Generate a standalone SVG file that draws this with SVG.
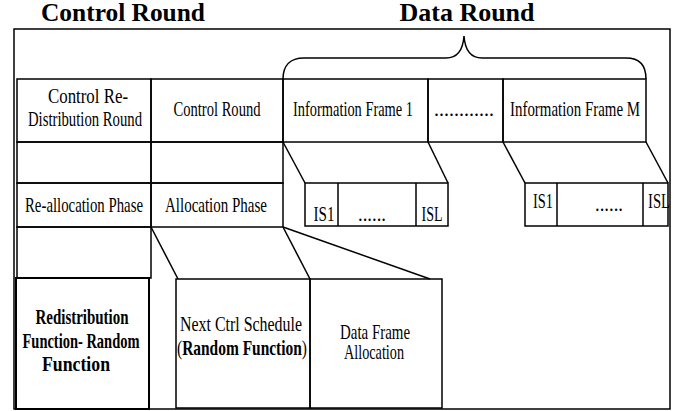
<svg xmlns="http://www.w3.org/2000/svg" width="679" height="411" viewBox="0 0 679 411">
<style>
.b{fill:none;stroke:#000;stroke-width:1.5}
.bb{fill:none;stroke:#000;stroke-width:2}
.t{font-family:'Liberation Serif',serif;font-size:22px;fill:#000;text-anchor:middle}
.tb{font-family:'Liberation Serif',serif;font-size:21px;font-weight:bold;fill:#000;text-anchor:middle}
.title{font-family:'Liberation Serif',serif;font-size:25px;font-weight:bold;fill:#000;text-anchor:middle}
.c{fill:none;stroke:#000;stroke-width:1.5}
</style>
<rect width="679" height="411" fill="#fff"/>
<g id="titles">
<text class="title" x="123" y="21" textLength="164" lengthAdjust="spacingAndGlyphs">Control Round</text>
<text class="title" x="467" y="21" textLength="135" lengthAdjust="spacingAndGlyphs">Data Round</text>
</g>
<g id="frame"><rect class="b" x="14" y="29" width="656" height="380"/></g>
<g id="brace"><path class="b" d="M283,79 C283,66 290,58 304,58 L446,58 C457,58 463,50 464,36 C465,50 471,58 482,58 L626,58 C640,58 646,66 646,79"/></g>
<g id="ctrl-redist-round">
<rect class="b" x="17" y="79" width="134" height="63"/>
<text class="t" x="88" y="103" textLength="80" lengthAdjust="spacingAndGlyphs">Control Re-</text>
<text class="t" x="85" y="126" textLength="114" lengthAdjust="spacingAndGlyphs">Distribution Round</text>
</g>
<g id="ctrl-round">
<rect class="b" x="151" y="79" width="132" height="63"/>
<text class="t" x="217" y="116" textLength="87" lengthAdjust="spacingAndGlyphs">Control Round</text>
</g>
<g id="info-frame-1">
<rect class="b" x="283" y="79" width="145" height="63"/>
<text class="t" x="353" y="116" textLength="120" lengthAdjust="spacingAndGlyphs">Information Frame 1</text>
</g>
<g id="info-dots">
<rect class="b" x="428" y="79" width="75" height="63"/>
<text class="t" x="464" y="116" textLength="60" lengthAdjust="spacingAndGlyphs">............</text>
</g>
<g id="info-frame-m">
<rect class="b" x="503" y="79" width="143" height="63"/>
<text class="t" x="575" y="116" textLength="130" lengthAdjust="spacingAndGlyphs">Information Frame M</text>
</g>
<g id="empty-1"><rect class="b" x="17" y="142" width="134" height="41"/></g>
<g id="empty-2"><rect class="b" x="151" y="142" width="132" height="41"/></g>
<g id="realloc-phase">
<rect class="b" x="17" y="183" width="134" height="44"/>
<text class="t" x="84" y="212" textLength="118" lengthAdjust="spacingAndGlyphs">Re-allocation Phase</text>
</g>
<g id="alloc-phase">
<rect class="b" x="151" y="183" width="132" height="44"/>
<text class="t" x="216" y="212" textLength="102" lengthAdjust="spacingAndGlyphs">Allocation Phase</text>
</g>
<g id="empty-3"><rect class="b" x="17" y="227" width="134" height="51"/></g>
<g id="slots-1">
<rect class="b" x="305" y="183" width="143" height="43"/>
<line class="b" x1="338" y1="183" x2="338" y2="226"/>
<line class="b" x1="416" y1="183" x2="416" y2="226"/>
<text class="t" x="324" y="221" textLength="21" lengthAdjust="spacingAndGlyphs">IS1</text>
<text class="t" x="372" y="221" textLength="28" lengthAdjust="spacingAndGlyphs">......</text>
<text class="t" x="432" y="221" textLength="21" lengthAdjust="spacingAndGlyphs">ISL</text>
</g>
<g id="slots-m">
<rect class="b" x="525" y="183" width="143" height="43"/>
<line class="b" x1="557" y1="183" x2="557" y2="226"/>
<line class="b" x1="643" y1="183" x2="643" y2="226"/>
<text class="t" x="543" y="208" textLength="20" lengthAdjust="spacingAndGlyphs">IS1</text>
<text class="t" x="609" y="211" textLength="28" lengthAdjust="spacingAndGlyphs">......</text>
<text class="t" x="659" y="208" textLength="22" lengthAdjust="spacingAndGlyphs">ISL</text>
</g>
<g id="redistribution-fn">
<rect class="bb" x="16" y="278" width="133" height="131"/>
<text class="tb" x="82" y="324" textLength="93" lengthAdjust="spacingAndGlyphs">Redistribution</text>
<text class="tb" x="81" y="348" textLength="117" lengthAdjust="spacingAndGlyphs">Function- Random</text>
<text class="tb" x="76" y="371" textLength="68" lengthAdjust="spacingAndGlyphs">Function</text>
</g>
<g id="next-ctrl">
<rect class="b" x="176" y="279" width="134" height="129"/>
<text class="t" x="241" y="331" textLength="122" lengthAdjust="spacingAndGlyphs">Next Ctrl Schedule</text>
<text class="t" x="242" y="355" textLength="130" lengthAdjust="spacingAndGlyphs">(<tspan font-weight="bold">Random Function</tspan>)</text>
</g>
<g id="data-frame-alloc">
<rect class="b" x="310" y="279" width="132" height="129"/>
<text class="t" x="375" y="339" textLength="70" lengthAdjust="spacingAndGlyphs">Data Frame</text>
<text class="t" x="374" y="359" textLength="60" lengthAdjust="spacingAndGlyphs">Allocation</text>
</g>
<g id="connectors">
<line class="c" x1="283" y1="142" x2="305" y2="183"/>
<line class="c" x1="428" y1="142" x2="448" y2="183"/>
<line class="c" x1="503" y1="142" x2="525" y2="183"/>
<line class="c" x1="646" y1="142" x2="668" y2="183"/>
<line class="c" x1="151" y1="227" x2="178" y2="279"/>
<line class="c" x1="283" y1="227" x2="310" y2="279"/>
<line class="c" x1="283" y1="227" x2="430" y2="279"/>
</g>
</svg>
